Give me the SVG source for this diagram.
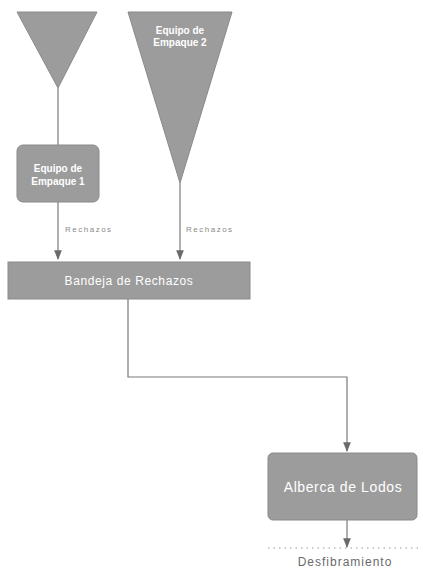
<svg xmlns="http://www.w3.org/2000/svg" width="423" height="573" viewBox="0 0 423 573">
<style>
.shape{fill:#9c9c9c;stroke:#8a8a8a;stroke-width:1}
.lbl{font-family:"Liberation Sans",Arial,sans-serif;fill:#ffffff;font-weight:bold;text-anchor:middle}
.big{font-family:"Liberation Sans",Arial,sans-serif;fill:#ffffff;text-anchor:middle;letter-spacing:0.6px}
.edge{fill:none;stroke:#7a7a7a;stroke-width:1.2}
.elbl{font-family:"Liberation Sans",Arial,sans-serif;fill:#8a8a8a;font-size:8px;letter-spacing:1.5px}
</style>
<defs>
<marker id="arr" viewBox="0 0 10 10" refX="9" refY="5" markerWidth="8" markerHeight="8" orient="auto">
<path d="M0,1 L10,5 L0,9 z" fill="#6a6a6a"/>
</marker>
</defs>
<rect width="423" height="573" fill="#ffffff"/>
<g id="connectors">
<path class="edge" d="M58,88 V145"/>
<path class="edge" d="M58,202 V259" marker-end="url(#arr)"/>
<text class="elbl" x="65" y="232">Rechazos</text>
<path class="edge" d="M180,183 V259" marker-end="url(#arr)"/>
<text class="elbl" x="186" y="232">Rechazos</text>
<path class="edge" d="M128,299 V377 H347 V451" marker-end="url(#arr)"/>
<path class="edge" d="M347,520 V547" marker-end="url(#arr)"/>
</g>
<g id="equipo1-triangulo">
<polygon class="shape" points="17,12 97,12 58,88"/>
</g>
<g id="equipo2">
<polygon class="shape" points="128,12 232,12 180,183"/>
<text class="lbl" font-size="10" x="180" y="34">Equipo de</text>
<text class="lbl" font-size="10" x="180" y="46">Empaque 2</text>
</g>
<g id="equipo1">
<rect class="shape" x="17" y="145" width="82" height="57" rx="6"/>
<text class="lbl" font-size="10" x="58" y="172">Equipo de</text>
<text class="lbl" font-size="10" x="58" y="185">Empaque 1</text>
</g>
<g id="bandeja">
<rect class="shape" x="8" y="262" width="242" height="37"/>
<text class="big" font-size="12" x="129" y="285">Bandeja de Rechazos</text>
</g>
<g id="alberca">
<rect class="shape" x="268" y="453" width="149" height="67" rx="5"/>
<text class="big" font-size="14" x="343" y="492">Alberca de Lodos</text>
</g>
<g id="desfibramiento">
<line x1="268" y1="548" x2="420" y2="548" stroke="#9a9a9a" stroke-width="1" stroke-dasharray="1.5,4"/>
<text x="345" y="566" font-family="Liberation Sans, Arial, sans-serif" font-size="12" fill="#6a6a6a" text-anchor="middle" letter-spacing="1">Desfibramiento</text>
</g>
</svg>
